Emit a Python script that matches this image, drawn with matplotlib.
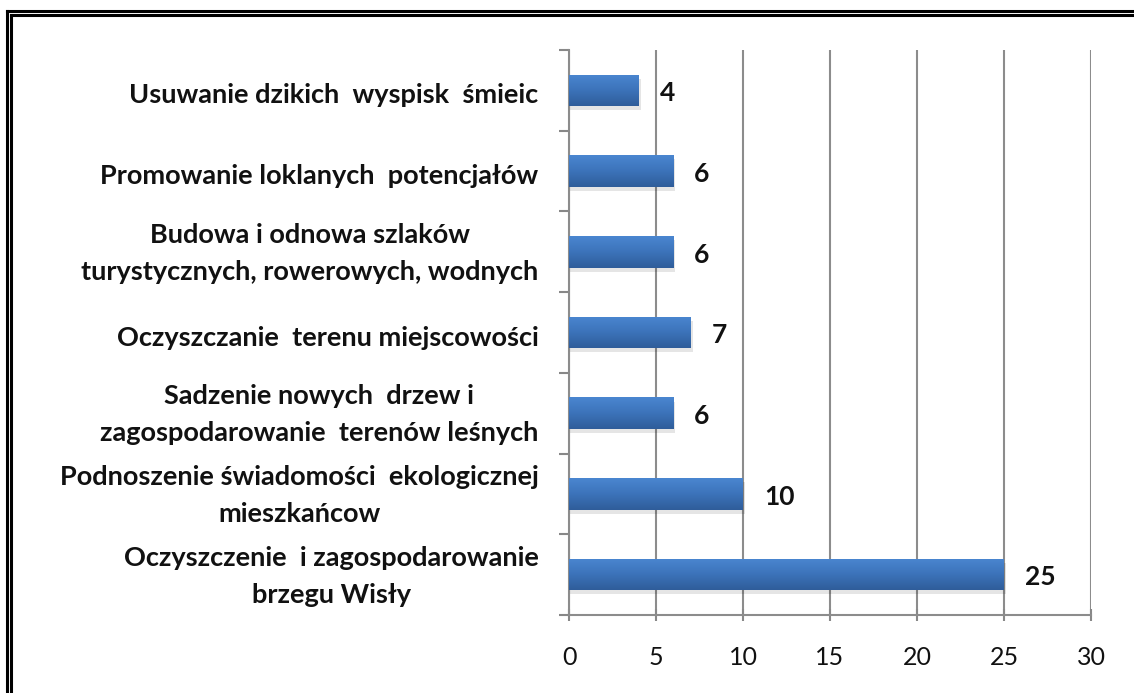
import matplotlib
matplotlib.use("Agg")
import matplotlib.pyplot as plt
import numpy as np
from matplotlib.patches import Rectangle
from matplotlib.lines import Line2D
from matplotlib.colors import LinearSegmentedColormap
from matplotlib.transforms import ScaledTranslation

categories = [
    "Oczyszczenie  i zagospodarowanie\nbrzegu Wisły",
    "Podnoszenie świadomości  ekologicznej\nmieszkańcow",
    "Sadzenie nowych  drzew i\nzagospodarowanie  terenów leśnych",
    "Oczyszczanie  terenu miejscowości",
    "Budowa i odnowa szlaków\nturystycznych, rowerowych, wodnych",
    "Promowanie loklanych  potencjałów",
    "Usuwanie dzikich  wyspisk  śmieic",
]
values = [25, 10, 6, 7, 6, 6, 4]
xticks = [0, 5, 10, 15, 20, 25, 30]

plt.rcParams['font.family'] = ['Lato', 'DejaVu Sans']

W, H = 1134, 693
fig = plt.figure(figsize=(W / 100, H / 100), dpi=100)
fig.patch.set_facecolor('white')

ax = fig.add_axes([569 / W, 1 - 615 / H, (1091 - 569) / W, (615 - 50) / H])

y = np.arange(len(categories))
bar_h = 0.39
bars = ax.barh(y, values, height=bar_h, color='#3a70b8', zorder=3)

grad = np.linspace(0, 1, 64).reshape(-1, 1)
cmap = LinearSegmentedColormap.from_list('g', ['#2f5d9a', '#3c73ba', '#4a86d0'])
for b in bars:
    x0, y0 = b.get_x(), b.get_y()
    w, h = b.get_width(), b.get_height()
    sh = Rectangle((x0, y0 - 0.05), w + 0.12, h, facecolor='#000000', alpha=0.10,
                   edgecolor='none', zorder=2)
    ax.add_patch(sh)
    im = ax.imshow(grad, extent=[x0, x0 + w, y0, y0 + h], origin='lower',
                   cmap=cmap, aspect='auto', zorder=4, interpolation='bicubic')
    im.set_clip_path(b)

for yi, v in zip(y, values):
    ax.annotate(str(v), xy=(v, yi), xytext=(15, -2), textcoords='offset points',
                ha='left', va='center', fontsize=19, fontweight='bold', color='#111111')

ax.set_xlim(0, 30)
ax.set_ylim(-0.5, len(categories) - 0.5)
ax.set_xticks(xticks)
ax.set_xticklabels([str(t) for t in xticks], fontsize=18, color='#111111')
ax.set_yticks(y)
ax.set_yticklabels(categories, fontsize=19.5, fontweight='bold', color='#111111')
ax.tick_params(axis='y', length=0, pad=22)
ax.set_yticks(np.arange(-0.5, len(categories)), minor=True)
ax.tick_params(axis='y', which='minor', length=7, width=1.5, color='#888888', direction='out')
ax.tick_params(axis='x', length=8, width=1.5, color='#888888', direction='inout', pad=18)
for lab in ax.get_yticklabels():
    lab.set_multialignment('center')
    lab.set_linespacing(1.65)
    dy = 7 if '\n' in lab.get_text() else -3
    lab.set_transform(lab.get_transform() + ScaledTranslation(0, dy / 100, fig.dpi_scale_trans))

ax.grid(axis='x', color='#8c8c8c', linewidth=1.5, zorder=0)
ax.set_axisbelow(True)
for s in ['top', 'right']:
    ax.spines[s].set_visible(False)
for s in ['left', 'bottom']:
    ax.spines[s].set_color('#8c8c8c')
    ax.spines[s].set_linewidth(1.5)

def fx(px):
    return px / W
def fy(py):
    return 1 - py / H
for xp in (7, 11):
    fig.add_artist(Line2D([fx(xp), fx(xp)], [fy(11 if xp == 7 else 15), 0], color='black',
                          linewidth=2.2, transform=fig.transFigure))
for yp in (11, 15):
    fig.add_artist(Line2D([fx(7 if yp == 11 else 11), 1], [fy(yp), fy(yp)], color='black',
                          linewidth=2.2, transform=fig.transFigure))

fig.savefig('out.png', dpi=100, facecolor='white')
